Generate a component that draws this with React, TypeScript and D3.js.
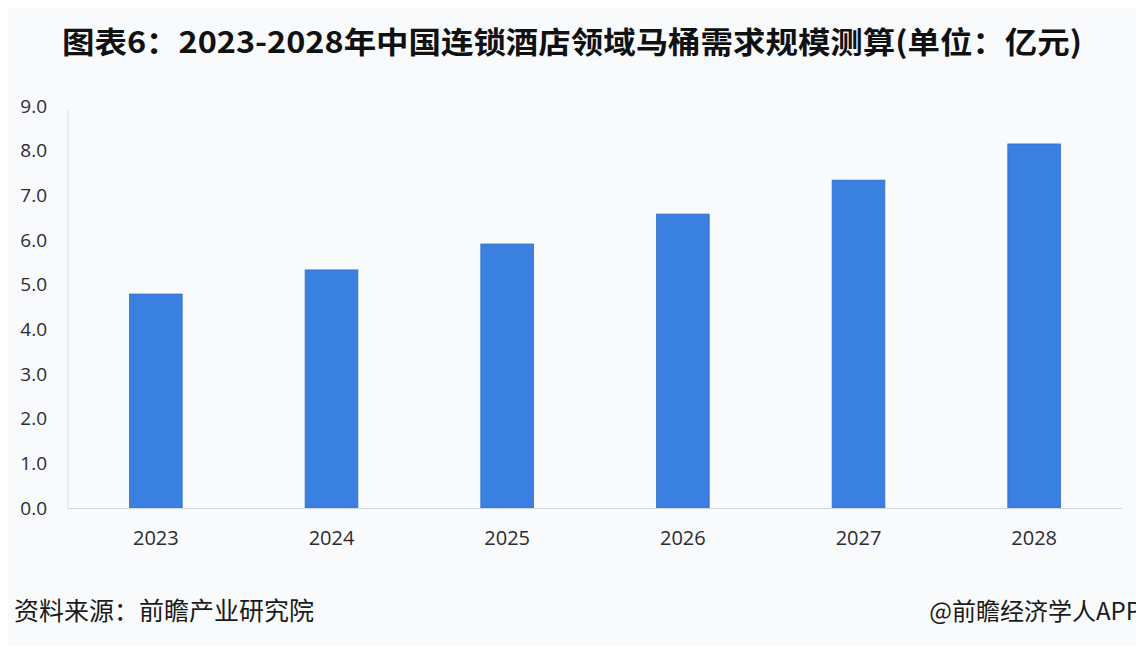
import React, { useRef, useEffect } from 'react';
import * as d3 from 'd3';

const years = ['2023', '2024', '2025', '2026', '2027', '2028'];
const values = [4.79, 5.33, 5.91, 6.58, 7.34, 8.15];
const yTicks = [0, 1, 2, 3, 4, 5, 6, 7, 8, 9];

const title = '图表6：2023-2028年中国连锁酒店领域马桶需求规模测算(单位：亿元)';
const source = '资料来源：前瞻产业研究院';
const credit = '@前瞻经济学人APP';

const App = () => {
  const chartRef = useRef(null);

  useEffect(() => {
    const container = d3.select(chartRef.current);
    container.select('svg').remove();

    const width = 1144;
    const height = 654;
    const margin = { top: 106, right: 22, bottom: 146, left: 68 };

    const svg = container
      .append('svg')
      .attr('width', width)
      .attr('height', height)
      .style('display', 'block');

    svg.append('rect')
      .attr('width', width)
      .attr('height', height)
      .attr('fill', '#f9fafc');

    const x = d3.scaleBand()
      .domain(years)
      .range([margin.left, width - margin.right])
      .paddingInner(0.7)
      .paddingOuter(0.35);

    const y = d3.scaleLinear()
      .domain([0, 9])
      .range([height - margin.bottom, margin.top]);

    // title
    svg.append('text')
      .attr('x', width / 2)
      .attr('y', 53)
      .attr('text-anchor', 'middle')
      .attr('font-family', '"Noto Sans CJK SC", "Noto Sans", sans-serif')
      .attr('font-weight', 'bold')
      .attr('font-size', 30)
      .attr('textLength', 1020)
      .attr('lengthAdjust', 'spacingAndGlyphs')
      .attr('fill', '#111')
      .text(title);

    // y axis line
    svg.append('line')
      .attr('x1', margin.left)
      .attr('x2', margin.left)
      .attr('y1', y(9) + 4)
      .attr('y2', y(0))
      .attr('stroke', '#dde1e6')
      .attr('stroke-width', 1);

    // y tick labels
    svg.append('g')
      .selectAll('text')
      .data(yTicks)
      .enter()
      .append('text')
      .attr('x', 47)
      .attr('y', (d) => y(d))
      .attr('dy', '0.35em')
      .attr('text-anchor', 'end')
      .attr('font-family', '"Open Sans", "DejaVu Sans", sans-serif')
      .attr('font-size', 19)
      .attr('fill', '#2b2b33')
      .text((d) => d.toFixed(1));

    // bars
    svg.append('g')
      .selectAll('rect')
      .data(values)
      .enter()
      .append('rect')
      .attr('x', (_d, i) => x(years[i]) as number)
      .attr('y', (d) => y(d))
      .attr('width', x.bandwidth())
      .attr('height', (d) => y(0) - y(d))
      .attr('fill', '#3a80e0')
      .attr('stroke', '#3170c8')
      .attr('stroke-width', 0.8);

    // x axis line
    svg.append('line')
      .attr('x1', margin.left)
      .attr('x2', width - margin.right)
      .attr('y1', y(0) + 0.5)
      .attr('y2', y(0) + 0.5)
      .attr('stroke', '#d3d7dd')
      .attr('stroke-width', 1);

    // x labels
    svg.append('g')
      .selectAll('text')
      .data(years)
      .enter()
      .append('text')
      .attr('x', (d) => (x(d) as number) + x.bandwidth() / 2)
      .attr('y', 538)
      .attr('dy', '0.35em')
      .attr('text-anchor', 'middle')
      .attr('font-family', '"Open Sans", "DejaVu Sans", sans-serif')
      .attr('font-size', 20)
      .attr('fill', '#2b2b33')
      .text((d) => d);

    // footer
    svg.append('text')
      .attr('x', 14)
      .attr('y', 620)
      .attr('font-family', '"Noto Sans CJK SC", sans-serif')
      .attr('font-size', 25)
      .attr('fill', '#1a1a1a')
      .text(source);

    svg.append('text')
      .attr('x', 1141)
      .attr('y', 620)
      .attr('text-anchor', 'end')
      .attr('font-family', '"Noto Sans CJK SC", sans-serif')
      .attr('font-size', 24)
      .attr('fill', '#1a1a1a')
      .text(credit);
  }, []);

  return <div ref={chartRef} style={{ margin: -8 }}></div>;
};

export default App;
